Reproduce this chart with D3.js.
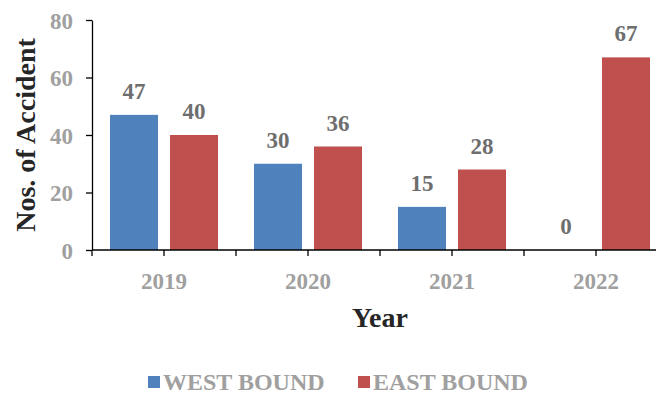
<!DOCTYPE html>
<meta charset="utf-8">
<style>
    body { margin: 0; background: #fff; }
    text { font-family: "Liberation Serif", "Times New Roman", serif; font-weight: bold; }
    .axis path, .axis line { stroke: #000; stroke-width: 1.3; }
    .axis text { fill: #a0a0a0; font-size: 23px; }
</style>
<svg width="656" height="394"></svg>
<script src="https://cdn.jsdelivr.net/npm/d3@7"></script>
<script>

    var years = ["2019", "2020", "2021", "2022"];
    var series = ["WEST BOUND", "EAST BOUND"];
    var westBound = [47, 30, 15, 0];
    var eastBound = [40, 36, 28, 67];
    var yTicks = [0, 20, 40, 60, 80];
    var colors = ["#4f81bd", "#c0504d"];

    var svg = d3.select("svg");
    var marginLeft = 92, marginTop = 20, plotH = 230, catW = 144;

    var x = d3.scaleBand()
            .domain(years)
            .range([marginLeft, marginLeft + catW * years.length])
            .paddingInner(0).paddingOuter(0);

    var xs = d3.scaleBand()
            .domain(series)
            .range([18, catW - 18])
            .paddingInner(0.2);

    var y = d3.scaleLinear()
            .domain([0, 80])
            .range([marginTop + plotH, marginTop]);

    var rows = years.map(function(yr, i) {
        return { year: yr, values: [westBound[i], eastBound[i]] };
    });

    var g = svg.selectAll(".cat")
            .data(rows)
            .enter().append("g")
            .attr("transform", function(d) { return "translate(" + x(d.year) + ",0)"; });

    g.selectAll("rect")
            .data(function(d) { return d.values; })
            .enter().append("rect")
            .attr("x", function(d, i) { return xs(series[i]); })
            .attr("width", xs.bandwidth())
            .attr("y", function(d) { return y(d); })
            .attr("height", function(d) { return y(0) - y(d); })
            .attr("fill", function(d, i) { return colors[i]; });

    g.selectAll(".lbl")
            .data(function(d) { return d.values; })
            .enter().append("text")
            .attr("class", "lbl")
            .attr("x", function(d, i) { return xs(series[i]) + xs.bandwidth() / 2; })
            .attr("y", function(d) { return y(d) - 16; })
            .attr("text-anchor", "middle")
            .attr("fill", "#6e6e6e")
            .style("font-size", "23px")
            .text(function(d) { return d; });

    // y axis
    var gy = svg.append("g")
            .attr("class", "axis")
            .attr("transform", "translate(" + marginLeft + ",0)")
            .call(d3.axisLeft(y).tickValues(yTicks).tickSize(6).tickPadding(13).tickSizeOuter(0));
    gy.selectAll("text").attr("dy", "0.35em");

    // x axis: ticks at category edges and centers, labels below centers
    var edges = [];
    years.forEach(function(yr) { edges.push(x(yr), x(yr) + catW / 2); });
    var gx = svg.append("g").attr("class", "axis");
    gx.append("line")
            .attr("x1", marginLeft).attr("x2", 656)
            .attr("y1", y(0)).attr("y2", y(0));
    gx.selectAll(".tk")
            .data(edges)
            .enter().append("line")
            .attr("x1", function(d) { return d; }).attr("x2", function(d) { return d; })
            .attr("y1", y(0)).attr("y2", y(0) + 6);
    gx.selectAll(".yr")
            .data(years)
            .enter().append("text")
            .attr("x", function(d) { return x(d) + catW / 2; })
            .attr("y", y(0) + 39)
            .attr("text-anchor", "middle")
            .text(function(d) { return d; });

    svg.append("text")
            .attr("text-anchor", "middle")
            .attr("transform", "translate(" + 35 + "," + (marginTop + plotH / 2) + ")rotate(-90)")
            .attr("fill", "#262626")
            .style("font-size", "28px")
            .text("Nos. of Accident");

    svg.append("text")
            .attr("text-anchor", "middle")
            .attr("x", 380).attr("y", 327)
            .attr("fill", "#262626")
            .style("font-size", "28px")
            .text("Year");

    // legend
    var legX = [148, 358];
    var leg = svg.selectAll(".leg")
            .data(series)
            .enter().append("g")
            .attr("transform", function(d, i) { return "translate(" + legX[i] + ",376)"; });
    leg.append("rect")
            .attr("width", 12).attr("height", 12)
            .attr("fill", function(d, i) { return colors[i]; });
    leg.append("text")
            .attr("x", 15).attr("y", 14)
            .attr("fill", "#a0a0a0")
            .style("font-size", "24px")
            .text(function(d) { return d; });

</script>
